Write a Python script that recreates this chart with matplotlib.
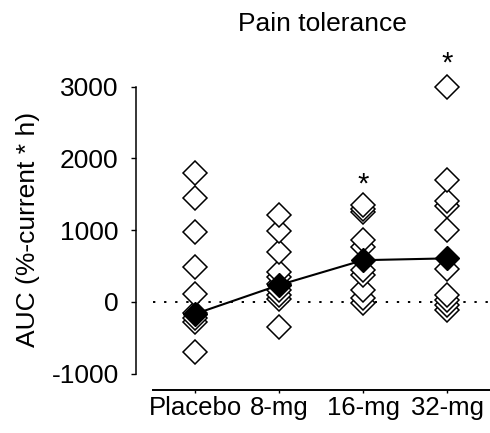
import matplotlib
matplotlib.use("Agg")
import matplotlib.pyplot as plt

categories = ["Placebo", "8-mg", "16-mg", "32-mg"]
placebo = [1790, 1440, 975, 490, 115, -150, -230, -280, -700]
mg8 = [1210, 980, 700, 420, 350, 250, 160, 90, 40, -350]
mg16 = [1350, 1300, 1255, 860, 770, 440, 370, 160, 50, -20]
mg32 = [3000, 1700, 1400, 1330, 1000, 460, 100, 30, -40, -120]
means = [-170, 233, 580, 605]
star_groups = [2, 3]
star_values = [1640, 3320]
yticks = [-1000, 0, 1000, 2000, 3000]

plt.rcParams['font.family'] = ['Liberation Sans', 'DejaVu Sans']

fig = plt.figure(figsize=(4.9, 4.33), dpi=100)
ax = fig.add_axes([153/490, 43/433, 337/490, 345/433])

groups = [placebo, mg8, mg16, mg32]
for i, vals in enumerate(groups):
    s = sorted(vals)
    ax.plot([i]*len(s), s, linestyle='none', marker='D', markersize=12.5,
            markerfacecolor='white', markeredgecolor='black', markeredgewidth=1.1,
            zorder=3)

ax.plot(range(len(categories)), means, color='black', lw=1.5, marker='D',
        markersize=12.5, markerfacecolor='black', markeredgecolor='black', zorder=5)

ax.axhline(0, color='black', lw=1.4, linestyle=(0, (1.2, 4.5)), zorder=1)

for g, v in zip(star_groups, star_values):
    ax.text(g, v, '*', ha='center', va='center', fontsize=21)

ax.set_xlim(-0.5, 3.51)
ax.set_ylim(-1230, 3580)
ax.set_xticks(range(len(categories)))
ax.set_xticklabels(categories)
ax.set_yticks(yticks)
ax.set_yticklabels([str(t) for t in yticks])

for s in ['top', 'right']:
    ax.spines[s].set_visible(False)
ax.spines['left'].set_position(('outward', 17*72/100))
ax.spines['left'].set_bounds(-1000, 3000)
ax.spines['left'].set_linewidth(1.1)
ax.spines['bottom'].set_linewidth(1.4)

ax.tick_params(axis='y', direction='out', length=3.5, width=1, pad=9, labelsize=19)
ax.tick_params(axis='x', direction='out', length=2.5, width=1, pad=1.5, labelsize=18.5)

fig.text(28/490, 1-229/433, 'AUC (%-current * h)', rotation=90, ha='center', va='center', fontsize=19)
fig.text(322/490, 1-24/433, 'Pain tolerance', ha='center', va='center', fontsize=19)

fig.savefig('out.png', dpi=100)
